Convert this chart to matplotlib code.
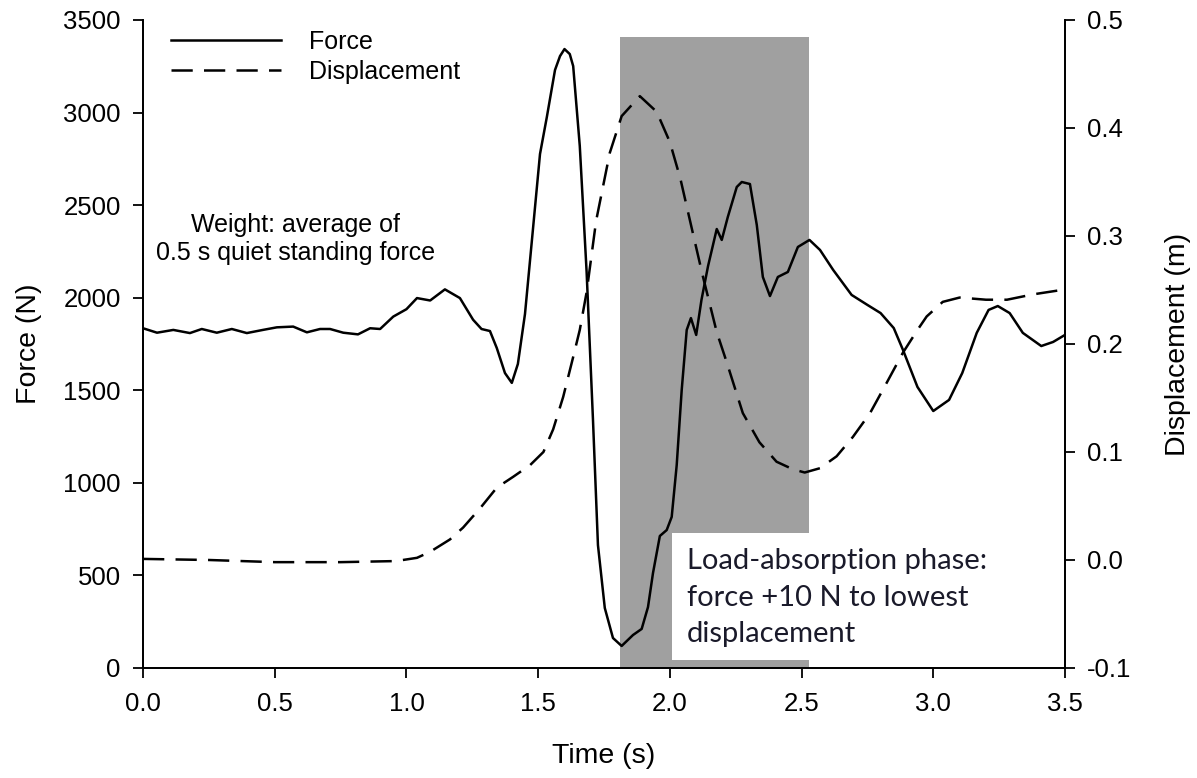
import matplotlib.pyplot as plt
import numpy as np

# force trace (N)
t_force = [0.0, 0.053, 0.115, 0.178, 0.223, 0.28, 0.337, 0.394, 0.455, 0.508,
           0.57, 0.622, 0.672, 0.71, 0.76, 0.816, 0.862, 0.90, 0.95, 1.0,
           1.04, 1.09, 1.146, 1.203, 1.253, 1.285, 1.317, 1.343, 1.374, 1.40,
           1.423, 1.45, 1.48, 1.507, 1.533, 1.564, 1.583, 1.60, 1.62, 1.633,
           1.658, 1.684, 1.708, 1.727, 1.753, 1.784, 1.817, 1.86, 1.893, 1.917,
           1.936, 1.962, 1.988, 2.007, 2.026, 2.045, 2.064, 2.08, 2.10, 2.12,
           2.145, 2.178, 2.197, 2.22, 2.254, 2.273, 2.304, 2.33, 2.353, 2.38,
           2.41, 2.448, 2.486, 2.53, 2.57, 2.62, 2.69, 2.75, 2.80, 2.85,
           2.885, 2.94, 3.0, 3.06, 3.11, 3.165, 3.21, 3.245, 3.29, 3.34,
           3.41, 3.455, 3.5]
force = [1835, 1811, 1826, 1809, 1831, 1811, 1831, 1809, 1826, 1840,
         1844, 1813, 1831, 1831, 1811, 1802, 1835, 1831, 1898, 1938,
         1998, 1985, 2045, 1998, 1881, 1831, 1820, 1728, 1593, 1540,
         1642, 1912, 2366, 2776, 2976, 3230, 3305, 3343, 3316, 3251,
         2820, 2139, 1345, 664, 324, 162, 119, 178, 211, 329,
         513, 713, 745, 816, 1096, 1502, 1826, 1890, 1799, 1988,
         2171, 2371, 2312, 2436, 2598, 2625, 2614, 2393, 2112, 2009,
         2112, 2139, 2274, 2312, 2258, 2150, 2015, 1961, 1917, 1836,
         1718, 1518, 1388, 1448, 1593, 1810, 1934, 1955, 1917, 1810,
         1739, 1761, 1799]

# displacement trace (m)
t_disp = [0.0, 0.25, 0.5, 0.75, 0.96, 1.04, 1.09, 1.165, 1.215, 1.28,
          1.343, 1.405, 1.47, 1.52, 1.557, 1.595, 1.633, 1.658, 1.684, 1.72,
          1.772, 1.817, 1.886, 1.95, 2.0, 2.04, 2.087, 2.125, 2.178, 2.216,
          2.277, 2.34, 2.405, 2.467, 2.512, 2.57, 2.633, 2.695, 2.76, 2.823,
          2.885, 2.94, 2.975, 3.036, 3.10, 3.20, 3.28, 3.38, 3.5]
disp = [0.001, 0.0, -0.002, -0.002, -0.001, 0.002, 0.0076, 0.019, 0.030, 0.048,
        0.067, 0.077, 0.088, 0.100, 0.121, 0.151, 0.188, 0.213, 0.248, 0.314,
        0.377, 0.411, 0.4295, 0.415, 0.387, 0.353, 0.303, 0.263, 0.211, 0.183,
        0.136, 0.109, 0.091, 0.084, 0.081, 0.085, 0.096, 0.114, 0.136, 0.164,
        0.192, 0.213, 0.2255, 0.239, 0.243, 0.241, 0.241, 0.246, 0.2505]

# load-absorption phase (shaded) and the white label box over it
phase_start = 1.81
phase_end = 2.53
phase_top = 3410
box_t = [2.01, 2.65]
box_f = [43, 729]

plt.rcParams['font.family'] = ['Liberation Sans', 'DejaVu Sans']

fig = plt.figure(figsize=(11.97, 7.78), dpi=100)
ax = fig.add_axes([0.1195, 0.1414, 0.7702, 0.8329])
ax2 = ax.twinx()

ax.fill_between([phase_start, phase_end], 0, phase_top, color='#a0a0a0',
                linewidth=0, zorder=0)
ax.fill_between(box_t, box_f[0], box_f[1], color='white', linewidth=0, zorder=1)

l1, = ax.plot(t_force, force, color='black', lw=1.8, label='Force', zorder=3)
l2, = ax2.plot(t_disp, disp, color='black', lw=1.8, linestyle=(0, (8.5, 4.5)),
               label='Displacement')

ax.set_xlim(0, 3.5)
ax.set_ylim(0, 3500)
ax2.set_ylim(-0.1, 0.5)
ax.set_xticks(np.arange(0, 3.51, 0.5))
ax.set_xticklabels(['%.1f' % v for v in np.arange(0, 3.51, 0.5)])
ax.set_yticks(range(0, 3501, 500))
ax2.set_yticks(np.arange(-0.1, 0.51, 0.1))
ax2.set_yticklabels(['%.1f' % v for v in np.arange(-0.1, 0.51, 0.1)])

for a in (ax, ax2):
    a.spines['top'].set_visible(False)
    for s in a.spines.values():
        s.set_linewidth(1.3)
    a.tick_params(direction='out', length=7, width=1.3, labelsize=18.5, pad=9)
ax.tick_params(axis='x', pad=10)

ax.set_xlabel('Time (s)', fontsize=20.5, labelpad=20)
ax.set_ylabel('Force (N)', fontsize=20.5, labelpad=15)
ax2.set_ylabel('Displacement (m)', fontsize=20.5, labelpad=24)

ax.legend([l1, l2], ['Force', 'Displacement'], loc='upper left',
          bbox_to_anchor=(0.02, 1.0), frameon=False, fontsize=18,
          handlelength=4.4, handletextpad=1.1, labelspacing=0.25,
          borderaxespad=0)

ax.text(0.58, 2315, 'Weight: average of\n0.5 s quiet standing force',
        ha='center', va='center', fontsize=18, linespacing=1.2)

ax.text(2.065, 380, 'Load-absorption phase:\nforce +10 N to lowest\ndisplacement',
        ha='left', va='center', fontsize=21, family=['Lato', 'DejaVu Sans'],
        color='#1a1a2a', linespacing=1.5, zorder=2)

fig.savefig('out.png', dpi=100)
